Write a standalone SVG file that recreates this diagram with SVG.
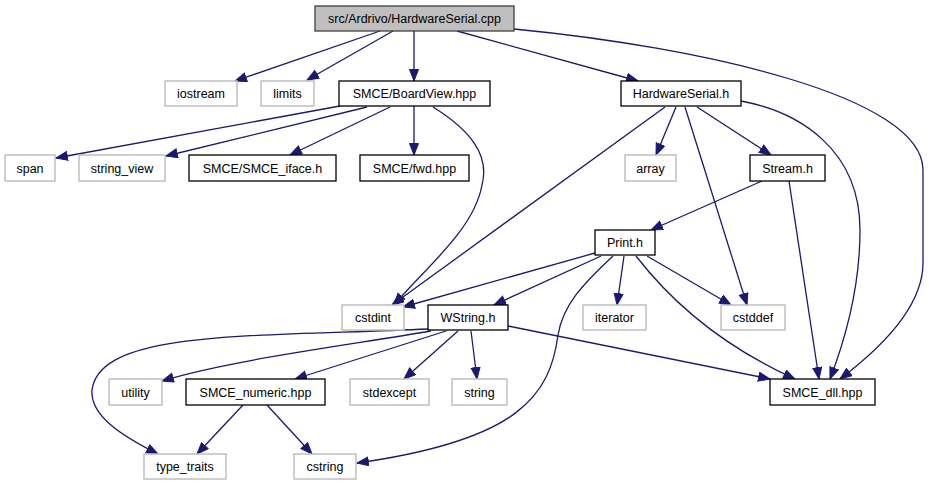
<svg xmlns="http://www.w3.org/2000/svg" width="929" height="485" viewBox="0 0 929 485">
<defs>
<style>
.n rect{fill:#fff;stroke:#000;stroke-width:1.3}
.n.sys rect{stroke:#bfbfbf;stroke-width:1.5}
.n.root rect{fill:#bfbfbf;stroke:#404040}
.n text{font-family:"Liberation Sans",Arial,sans-serif;font-size:12.5px;fill:#000;text-anchor:middle}
.e path{fill:none;stroke:#191970;stroke-width:1.3;marker-end:url(#ah)}
</style>
<marker id="ah" markerUnits="userSpaceOnUse" markerWidth="14" markerHeight="11" refX="12" refY="5" orient="auto">
<path d="M0.5,0.5 L12,5 L0.5,9.5 z" fill="#191970" stroke="#191970" stroke-width="1"/>
</marker>
</defs>
<rect width="929" height="485" fill="#fff"/>
<g id="connectors" class="e">
<path d="M380,31 L235,81"/>
<path d="M393,31 L307,80"/>
<path d="M414,31 L414,81"/>
<path d="M457,31 L638,81"/>
<path d="M514,29 C700,47 923,96 923,170 L923,263 C923,305 885,345 840,379"/>
<path d="M665,107 L392,305"/>
<path d="M676,107 L656,155"/>
<path d="M685,107 L747,305"/>
<path d="M697,107 L771,155"/>
<path d="M741,101 C800,112 860,150 860,230 C860,290 845,340 830,379"/>
<path d="M762,181 L651,230"/>
<path d="M789,181 L819,379"/>
<path d="M340,106 L56,158"/>
<path d="M367,107 L166,156"/>
<path d="M390,107 L290,155"/>
<path d="M414,106 L414,155"/>
<path d="M433,107 C470,130 490,155 482,185 C474,230 425,268 394,305"/>
<path d="M595,253 L403,307"/>
<path d="M601,256 L494,305"/>
<path d="M613,256 C582,285 563,305 558,335 C550,395 520,440 357,463"/>
<path d="M624,256 L617,305"/>
<path d="M636,256 C670,300 720,345 795,379"/>
<path d="M647,256 L731,305"/>
<path d="M428,329 C250,337 100,330 92,390 C90,415 120,435 158,454"/>
<path d="M431,331 C350,345 230,360 162,381"/>
<path d="M446,331 L295,379"/>
<path d="M458,331 L404,379"/>
<path d="M471,331 L477,379"/>
<path d="M508,326 L770,379"/>
<path d="M243,405 L197,454"/>
<path d="M267,405 L312,454"/>
</g>
<g id="root" class="n root"><rect x="315" y="6" width="199" height="25"/><text x="414.5" y="23">src/Ardrivo/HardwareSerial.cpp</text></g>
<g id="iostream" class="n sys"><rect x="165" y="81" width="72" height="25"/><text x="201" y="98">iostream</text></g>
<g id="limits" class="n sys"><rect x="261" y="81" width="53" height="25"/><text x="287.5" y="98">limits</text></g>
<g id="boardview" class="n"><rect x="339" y="81" width="151" height="25"/><text x="414.5" y="98">SMCE/BoardView.hpp</text></g>
<g id="hardwareserial_h" class="n"><rect x="621" y="81" width="120" height="25"/><text x="681" y="98">HardwareSerial.h</text></g>
<g id="span" class="n sys"><rect x="5" y="155" width="50" height="26"/><text x="30" y="172.5">span</text></g>
<g id="string_view" class="n sys"><rect x="79" y="155" width="86" height="26"/><text x="122" y="172.5">string_view</text></g>
<g id="smce_iface" class="n"><rect x="189" y="155" width="147" height="26"/><text x="262.5" y="172.5">SMCE/SMCE_iface.h</text></g>
<g id="fwd" class="n"><rect x="360" y="155" width="109" height="26"/><text x="414.5" y="172.5">SMCE/fwd.hpp</text></g>
<g id="array" class="n sys"><rect x="625" y="155" width="51" height="26"/><text x="650.5" y="172.5">array</text></g>
<g id="stream_h" class="n"><rect x="750" y="155" width="75" height="26"/><text x="787.5" y="172.5">Stream.h</text></g>
<g id="print_h" class="n"><rect x="595" y="230" width="60" height="25"/><text x="625" y="247">Print.h</text></g>
<g id="cstdint" class="n sys"><rect x="342" y="305" width="62" height="25"/><text x="373" y="322">cstdint</text></g>
<g id="wstring_h" class="n"><rect x="428" y="305" width="80" height="25"/><text x="468" y="322">WString.h</text></g>
<g id="iterator" class="n sys"><rect x="583" y="305" width="63" height="25"/><text x="614.5" y="322">iterator</text></g>
<g id="cstddef" class="n sys"><rect x="721" y="305" width="64" height="25"/><text x="753" y="322">cstddef</text></g>
<g id="utility" class="n sys"><rect x="109" y="379" width="53" height="26"/><text x="135.5" y="396.5">utility</text></g>
<g id="smce_numeric" class="n"><rect x="186" y="379" width="139" height="26"/><text x="255.5" y="396.5">SMCE_numeric.hpp</text></g>
<g id="stdexcept" class="n sys"><rect x="350" y="379" width="79" height="26"/><text x="389.5" y="396.5">stdexcept</text></g>
<g id="string" class="n sys"><rect x="452" y="379" width="55" height="26"/><text x="479.5" y="396.5">string</text></g>
<g id="smce_dll" class="n"><rect x="770" y="379" width="105" height="26"/><text x="822.5" y="396.5">SMCE_dll.hpp</text></g>
<g id="type_traits" class="n sys"><rect x="144" y="454" width="82" height="25"/><text x="185" y="471">type_traits</text></g>
<g id="cstring" class="n sys"><rect x="294" y="454" width="62" height="25"/><text x="325" y="471">cstring</text></g>
</svg>
